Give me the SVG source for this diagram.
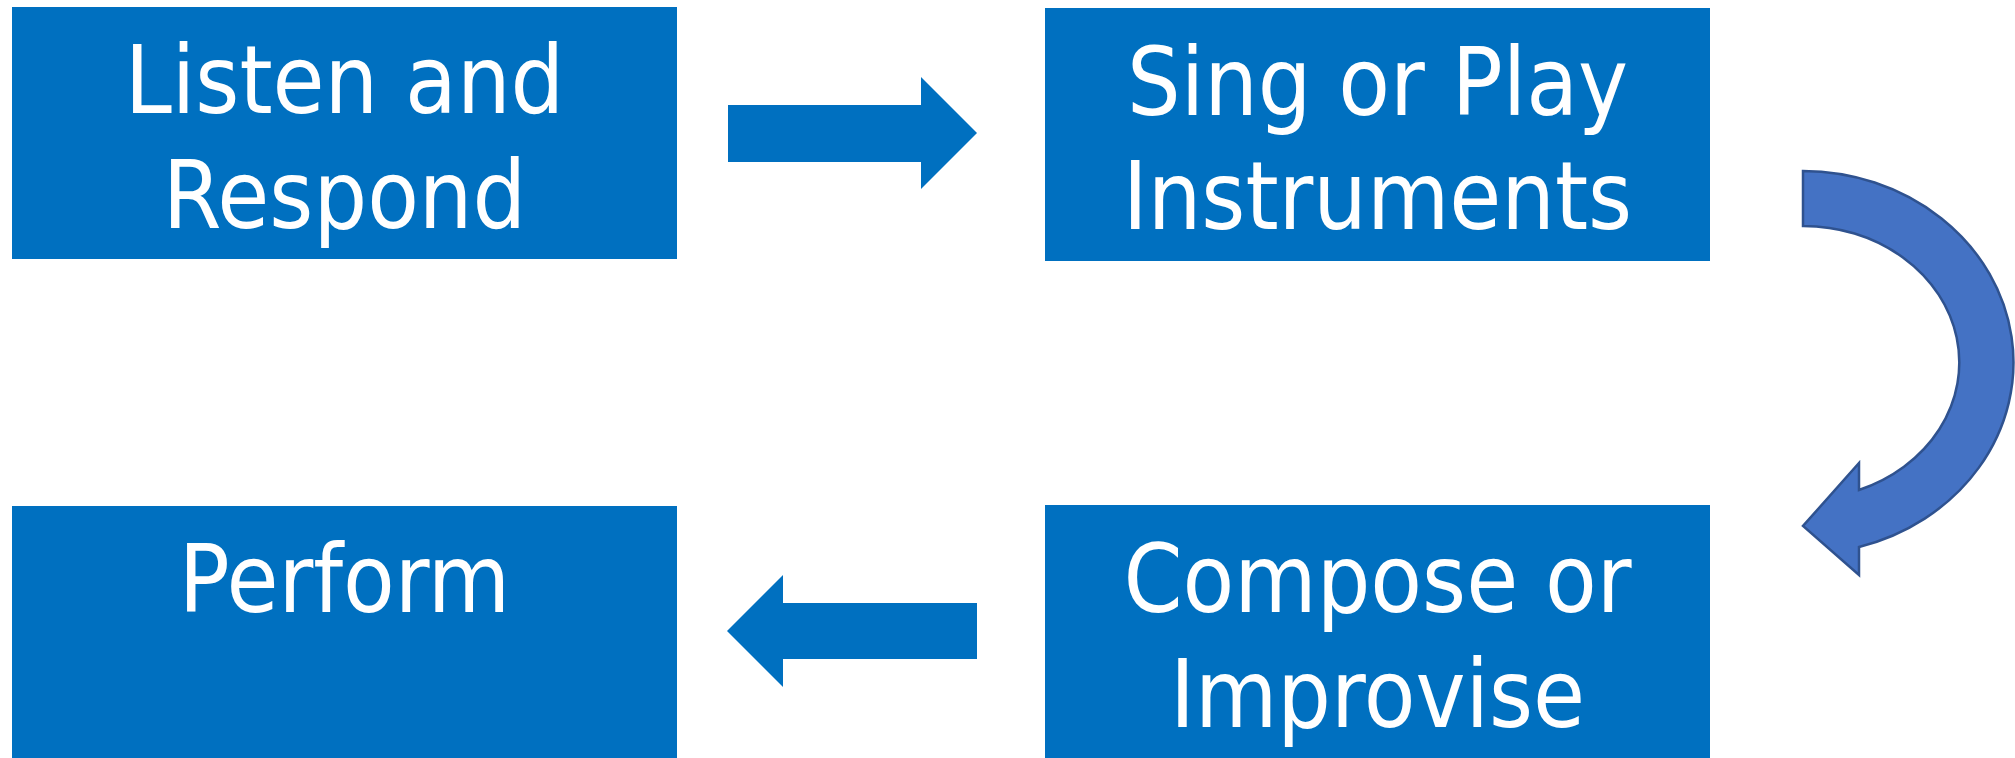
<svg xmlns="http://www.w3.org/2000/svg" width="2015" height="758" viewBox="0 0 2015 758">
<style>
.box{fill:#0070C0;}
.lbl{fill:#FFFFFF;font-family:"DejaVu Sans Condensed","DejaVu Sans",sans-serif;font-size:94px;text-anchor:middle;}
.arr{fill:#0070C0;}
.curve{fill:#4472C4;stroke:#2F528F;stroke-width:2.5;stroke-linejoin:miter;}
</style>
<rect width="2015" height="758" fill="#FFFFFF"/>
<g id="node-listen">
<rect class="box" x="12" y="7" width="665" height="252"/>
<text class="lbl" x="344.5" y="113">Listen and</text>
<text class="lbl" x="344.5" y="228">Respond</text>
</g>
<g id="node-sing">
<rect class="box" x="1045" y="8" width="665" height="253"/>
<text class="lbl" x="1377.5" y="115">Sing or Play</text>
<text class="lbl" x="1377.5" y="229">Instruments</text>
</g>
<g id="node-compose">
<rect class="box" x="1045" y="505" width="665" height="253"/>
<text class="lbl" x="1377.5" y="612">Compose or</text>
<text class="lbl" x="1377.5" y="727">Improvise</text>
</g>
<g id="node-perform">
<rect class="box" x="12" y="506" width="665" height="252"/>
<text class="lbl" x="344.5" y="612">Perform</text>
</g>
<g id="connectors">
<path class="arr" d="M728,105 L921,105 L921,77 L977,133 L921,189 L921,162 L728,162 Z"/>
<path class="curve" d="M1803,171 A211,191.5 0 0 1 1859,547 L1859,575 L1803,526 L1859,463 L1859,490 A156,136.5 0 0 0 1803,226 Z"/>
<path class="arr" d="M977,603 L783,603 L783,575 L727,631 L783,687 L783,659 L977,659 Z"/>
</g>
</svg>
